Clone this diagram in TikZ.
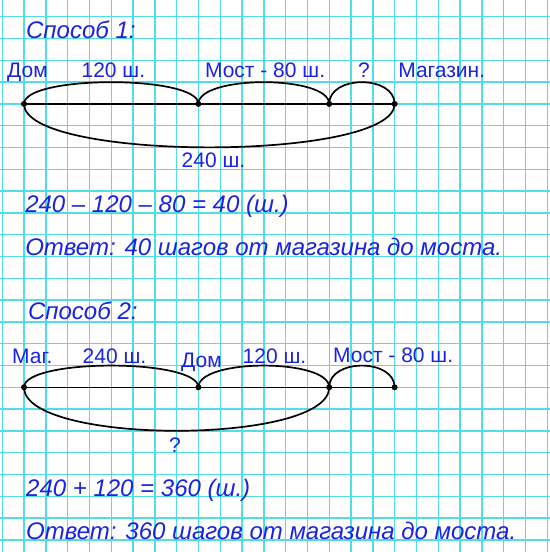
\documentclass[tikz,border=0pt]{standalone}
\usepackage{fontspec}
\setmainfont{Liberation Sans}
\usetikzlibrary{arrows,shapes}
\definecolor{inkblue}{RGB}{25,35,225}
\definecolor{gridcyan}{RGB}{80,220,232}
\tikzstyle{segment} = [draw,line width=1.6pt,-]
\tikzstyle{arcline} = [draw,line width=1.7pt,-]

\begin{document}
\begin{tikzpicture}[x=21.8pt,y=21.8pt,
  point/.style={circle,fill=black,minimum size=6pt,inner sep=0pt},
  lbl/.style={text=inkblue,inner sep=0pt,font=\fontsize{21}{25}\selectfont},
  big/.style={text=inkblue,inner sep=0pt,anchor=base west,font=\fontsize{24}{28}\selectfont\itshape}]

  % squared paper
  \useasboundingbox (-0.101,0.766) rectangle (25.128,-24.555);
  \fill[white] (-0.101,0.766) rectangle (25.128,-24.555);
  \draw[gridcyan,line width=1.4pt,step=1] (-0.101,0.766) grid (25.128,-24.555);

  % first way
  \node[big] (title1) at (1.09,-0.98) {Способ 1:};
  \node[point] (dom1) at (1,-4) {};
  \node[point] (most1) at (9,-4) {};
  \node[point] (q1) at (15,-4) {};
  \node[point] (shop1) at (18,-4) {};
  \node[lbl,anchor=base west] (domlbl1) at (0.22,-2.81) {Дом};
  \node[lbl,anchor=base] (len1) at (5.1,-2.81) {120 ш.};
  \node[lbl,anchor=base] (mostlbl1) at (12.06,-2.81) {Мост - 80 ш.};
  \node[lbl,anchor=base] (qlbl1) at (16.6,-2.81) {?};
  \node[lbl,anchor=base west] (shoplbl1) at (18.16,-2.81) {Магазин.};
  \node[lbl,anchor=base] (total1) at (9.69,-6.94) {240 ш.};
  \node[big] (eq1) at (1.05,-9) {240 – 120 – 80 = 40 (ш.)};
  \node[big] (ans1) at (1.05,-10.95) {Ответ: 40 шагов от магазина до моста.};

  \path[segment] (dom1.center) -- (shop1.center);
  \path[arcline]
    (dom1.center) edge [out=90,in=90,looseness=0.426] (most1.center)
    edge [out=-90,in=-90,looseness=0.401] (shop1.center)
    (most1.center) edge [out=90,in=90,looseness=0.568] (q1.center)
    (q1.center) edge [out=90,in=90,looseness=1.135] (shop1.center);

  % second way
  \node[big] (title2) at (1.18,-13.9) {Способ 2:};
  \node[point] (shop2) at (1,-17) {};
  \node[point] (dom2) at (9,-17) {};
  \node[point] (most2) at (15,-17) {};
  \node[point] (end2) at (18,-17) {};
  \node[lbl,anchor=base west] (shoplbl2) at (0.45,-15.89) {Маг.};
  \node[lbl,anchor=base] (len2) at (5.15,-15.89) {240 ш.};
  \node[lbl,anchor=base west] (domlbl2) at (8.2,-16.11) {Дом};
  \node[lbl,anchor=base] (len3) at (12.49,-15.89) {120 ш.};
  \node[lbl,anchor=base west] (mostlbl2) at (15.17,-15.84) {Мост - 80 ш.};
  \node[lbl,anchor=base] (qlbl2) at (7.93,-19.97) {?};
  \node[big] (eq2) at (1.09,-22) {240 + 120 = 360 (ш.)};
  \node[big] (ans2) at (1.09,-24) {Ответ: 360 шагов от магазина до моста.};

  \path[segment] (shop2.center) -- (end2.center);
  \path[arcline]
    (shop2.center) edge [out=90,in=90,looseness=0.426] (dom2.center)
    edge [out=-90,in=-90,looseness=0.487] (most2.center)
    (dom2.center) edge [out=90,in=90,looseness=0.568] (most2.center)
    (most2.center) edge [out=90,in=90,looseness=1.135] (end2.center);

\end{tikzpicture}
\end{document}
